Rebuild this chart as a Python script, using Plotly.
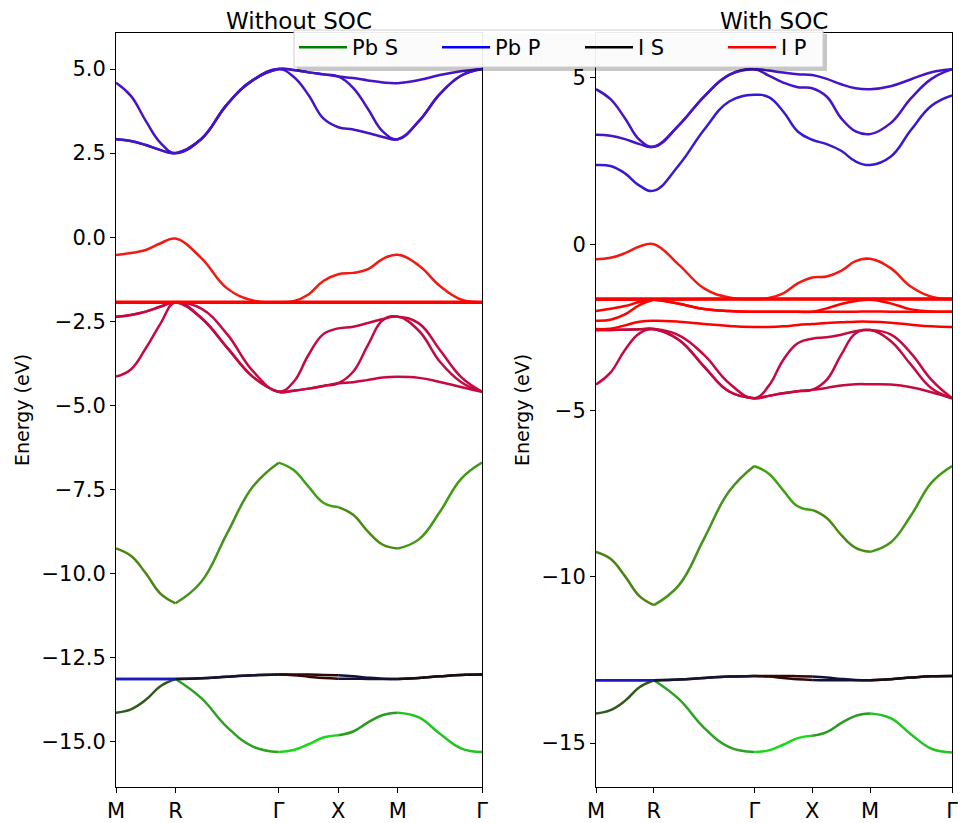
import plotly.graph_objects as go

# ---------------- k-path sampling (path length units) ----------------
K = [0.0, 0.125, 0.25, 0.375, 0.5, 0.7165, 0.933, 1.1495, 1.366, 1.491, 1.616, 1.741,
     1.866, 1.991, 2.116, 2.241, 2.366, 2.543, 2.720, 2.896, 3.073]
HS_POS = [0.0, 0.5, 1.366, 1.866, 2.366, 3.073]
HS_LABELS = ["M", "R", "Γ", "X", "M", "Γ"]

# ---------------- Without SOC (left) ----------------
L_PbP_A = [4.59, 4.20, 3.46, 2.80, 2.50, 2.92, 3.95, 4.67, 5.00, 4.97, 4.90, 4.84, 4.78, 4.73, 4.66, 4.60, 4.58, 4.67, 4.82, 4.93, 5.00]
L_PbP_B = [2.91, 2.86, 2.74, 2.59, 2.50, 2.92, 3.95, 4.67, 5.00, 4.97, 4.90, 4.84, 4.78, 4.44, 3.81, 3.14, 2.91, 3.45, 4.26, 4.80, 5.00]
L_PbP_C = [2.91, 2.86, 2.74, 2.59, 2.50, 2.92, 3.95, 4.67, 5.00, 4.77, 4.23, 3.53, 3.27, 3.20, 3.10, 2.98, 2.91, 3.45, 4.26, 4.80, 5.00]

L_IP_top = [-0.53, -0.47, -0.38, -0.18, -0.04, -0.62, -1.52, -1.88, -1.93, -1.90, -1.70, -1.30, -1.10, -1.06, -0.95, -0.64, -0.52, -0.84, -1.45, -1.85, -1.93]
L_IP_flat = [-1.93] * 21
L_IP_1 = [-4.14, -3.93, -3.30, -2.56, -1.93, -2.40, -3.28, -4.15, -4.59, -4.56, -4.50, -4.42, -4.34, -4.31, -4.24, -4.17, -4.15, -4.18, -4.30, -4.45, -4.59]
L_IP_2 = [-2.36, -2.31, -2.21, -2.06, -1.93, -2.40, -3.28, -4.15, -4.59, -4.56, -4.50, -4.42, -4.34, -4.00, -3.20, -2.46, -2.36, -2.78, -3.70, -4.30, -4.59]
L_IP_3 = [-2.36, -2.31, -2.21, -2.06, -1.93, -2.12, -2.88, -3.98, -4.59, -4.30, -3.50, -2.88, -2.71, -2.66, -2.55, -2.43, -2.36, -2.56, -3.35, -4.15, -4.59]

L_PbS_mid = [-9.25, -9.47, -9.99, -10.60, -10.88, -10.24, -8.80, -7.41, -6.70, -6.92, -7.41, -7.89, -8.02, -8.25, -8.75, -9.14, -9.25, -8.98, -8.16, -7.19, -6.70]
L_PbS_low = [-14.13, -14.03, -13.75, -13.34, -13.13, -13.70, -14.56, -15.14, -15.30, -15.24, -15.07, -14.87, -14.80, -14.69, -14.42, -14.20, -14.13, -14.27, -14.76, -15.19, -15.30]
L_IS_1 = [-13.13, -13.13, -13.13, -13.13, -13.13, -13.11, -13.06, -13.02, -13.00, -13.00, -13.00, -13.01, -13.02, -13.05, -13.09, -13.12, -13.13, -13.10, -13.05, -13.01, -13.00]
L_IS_2 = [-13.13, -13.13, -13.13, -13.13, -13.13, -13.11, -13.06, -13.02, -13.00, -13.02, -13.06, -13.10, -13.12, -13.12, -13.13, -13.13, -13.13, -13.10, -13.05, -13.01, -13.00]

# ---------------- With SOC (right) ----------------
R_PbP_1 = [4.66, 4.36, 3.79, 3.14, 2.93, 3.58, 4.44, 5.09, 5.26, 5.22, 5.16, 5.11, 5.09, 4.97, 4.81, 4.69, 4.66, 4.75, 4.96, 5.17, 5.26]
R_PbP_2 = [3.29, 3.26, 3.16, 3.01, 2.93, 3.58, 4.44, 5.09, 5.26, 5.07, 4.86, 4.72, 4.69, 4.44, 3.79, 3.39, 3.31, 3.64, 4.39, 4.97, 5.26]
R_PbP_3 = [2.38, 2.35, 2.13, 1.76, 1.61, 2.38, 3.44, 4.29, 4.49, 4.42, 3.99, 3.39, 3.14, 3.01, 2.81, 2.49, 2.38, 2.63, 3.44, 4.16, 4.47]

R_IP_top = [-0.45, -0.41, -0.27, -0.07, 0.00, -0.62, -1.33, -1.60, -1.65, -1.62, -1.48, -1.18, -1.00, -0.97, -0.80, -0.51, -0.44, -0.72, -1.28, -1.58, -1.65]
R_IP_flat = [-1.65] * 21
R_IP_2 = [-1.67, -1.67, -1.67, -1.67, -1.67, -1.79, -1.95, -2.01, -2.03, -2.03, -2.03, -2.03, -2.03, -1.93, -1.80, -1.71, -1.67, -1.78, -1.96, -2.02, -2.03]
R_IP_3 = [-2.01, -1.94, -1.86, -1.74, -1.67, -1.79, -1.95, -2.01, -2.03, -2.03, -2.03, -2.03, -2.03, -2.03, -2.03, -2.03, -2.02, -2.03, -2.03, -2.03, -2.03]
R_IP_4 = [-2.30, -2.27, -2.11, -1.83, -1.67, -1.66, -1.65, -1.65, -1.65, -1.65, -1.65, -1.65, -1.65, -1.65, -1.65, -1.65, -1.65, -1.65, -1.65, -1.65, -1.65]
R_IP_5 = [-2.55, -2.54, -2.44, -2.33, -2.30, -2.33, -2.40, -2.46, -2.49, -2.49, -2.47, -2.43, -2.40, -2.37, -2.35, -2.33, -2.33, -2.36, -2.42, -2.47, -2.49]
R_IP_L1 = [-4.22, -3.86, -3.18, -2.68, -2.56, -2.88, -3.68, -4.43, -4.63, -4.56, -4.48, -4.42, -4.38, -4.32, -4.25, -4.21, -4.21, -4.22, -4.30, -4.45, -4.63]
R_IP_L2 = [-2.58, -2.58, -2.57, -2.56, -2.55, -2.88, -3.68, -4.43, -4.63, -4.56, -4.48, -4.42, -4.38, -4.08, -3.33, -2.68, -2.58, -2.91, -3.63, -4.33, -4.63]
R_IP_L3 = [-2.58, -2.58, -2.57, -2.56, -2.55, -2.74, -3.33, -4.18, -4.63, -4.26, -3.48, -2.98, -2.84, -2.80, -2.72, -2.62, -2.58, -2.71, -3.28, -4.08, -4.63]

R_PbS_mid = [-9.25, -9.46, -9.98, -10.58, -10.85, -10.25, -8.85, -7.43, -6.67, -6.90, -7.40, -7.88, -7.99, -8.23, -8.74, -9.13, -9.25, -8.97, -8.15, -7.17, -6.67]
R_PbS_low = [-14.11, -14.01, -13.73, -13.32, -13.11, -13.68, -14.54, -15.12, -15.27, -15.22, -15.05, -14.85, -14.78, -14.67, -14.40, -14.18, -14.11, -14.25, -14.74, -15.17, -15.28]
R_IS_1 = [-13.11, -13.11, -13.11, -13.11, -13.11, -13.09, -13.04, -13.00, -12.98, -12.98, -12.98, -12.99, -13.00, -13.03, -13.07, -13.10, -13.11, -13.08, -13.03, -12.99, -12.98]
R_IS_2 = [-13.11, -13.11, -13.11, -13.11, -13.11, -13.09, -13.04, -13.00, -12.98, -13.00, -13.04, -13.08, -13.10, -13.11, -13.11, -13.11, -13.11, -13.08, -13.03, -12.99, -12.98]

LEFT_YTICKS = [5.0, 2.5, 0.0, -2.5, -5.0, -7.5, -10.0, -12.5, -15.0]
RIGHT_YTICKS = [5, 0, -5, -10, -15]
LEGEND_NAMES = ["Pb S", "Pb P", "I S", "I P"]
LEGEND_COLORS = ["#008000", "#0000ff", "#000000", "#ff0000"]

# ---------------- styles ----------------
C_PBP = "#4514c8"
C_PBP_LOW = "#3a18d2"
C_IP_TOP = "#f01a12"
C_IP_FLAT = "#ff0000"
C_IP_LOW = "#c40a40"
C_PBS_MID = ["#4a8412", "#46921a", "#3fa012", "#4a8a12", "#449818"]
C_PBS_LOW = ["#2f5a1a", "#2ea024", "#18d818", "#2a9a20", "#22c422"]
C_IS = ["#1a1ac0", "#151530", "#300808", "#121238", "#1a0d0d"]

FONT = "DejaVu Sans, Arial, sans-serif"
OFF = 8  # page body margin in the browser
W, H = 966 - 2 * OFF, 823 - OFF


def px(x):
    return (x - OFF) / W


def py(y):
    return 1 - (y - OFF) / H


LEFT_DOM = [px(116), px(482)]
RIGHT_DOM = [px(596), px(952)]
Y_DOM = [py(787), py(33)]
SMOOTH = 1.2

fig = go.Figure()


def add_band(E, color, axis, width=2.5):
    xa, ya = ("x", "y") if axis == 1 else ("x2", "y2")
    if isinstance(color, str):
        fig.add_trace(go.Scatter(x=K, y=E, mode="lines", xaxis=xa, yaxis=ya,
                                 line=dict(color=color, width=width, shape="spline", smoothing=SMOOTH),
                                 showlegend=False, hoverinfo="skip"))
    else:
        for s, c in enumerate(color):
            i0, i1 = 4 * s, 4 * s + 5
            fig.add_trace(go.Scatter(x=K[i0:i1], y=E[i0:i1], mode="lines", xaxis=xa, yaxis=ya,
                                     line=dict(color=c, width=width, shape="spline", smoothing=SMOOTH),
                                     showlegend=False, hoverinfo="skip"))


# left panel
for b in (L_PbP_A, L_PbP_B, L_PbP_C):
    add_band(b, C_PBP, 1)
for b in (L_IP_1, L_IP_2, L_IP_3):
    add_band(b, C_IP_LOW, 1)
add_band(L_IP_top, C_IP_TOP, 1)
add_band(L_IP_flat, C_IP_FLAT, 1, width=3.5)
add_band(L_PbS_mid, C_PBS_MID, 1)
add_band(L_PbS_low, C_PBS_LOW, 1)
add_band(L_IS_1, C_IS, 1)
add_band(L_IS_2, C_IS, 1)

# right panel
add_band(R_PbP_1, C_PBP, 2)
add_band(R_PbP_2, C_PBP, 2)
add_band(R_PbP_3, C_PBP_LOW, 2)
for b in (R_IP_L1, R_IP_L2, R_IP_L3):
    add_band(b, C_IP_LOW, 2)
for b in (R_IP_2, R_IP_3, R_IP_4, R_IP_5):
    add_band(b, C_IP_FLAT, 2)
add_band(R_IP_top, C_IP_TOP, 2)
add_band(R_IP_flat, C_IP_FLAT, 2, width=3.5)
add_band(R_PbS_mid, C_PBS_MID, 2)
add_band(R_PbS_low, C_PBS_LOW, 2)
add_band(R_IS_1, C_IS, 2)
add_band(R_IS_2, C_IS, 2)

# legend entries
for name, col in zip(LEGEND_NAMES, LEGEND_COLORS):
    fig.add_trace(go.Scatter(x=[None], y=[None], mode="lines", name=name,
                             line=dict(color=col, width=2.5), xaxis="x", yaxis="y"))


def fmt(v):
    s = f"{v:.1f}" if isinstance(v, float) else f"{v:d}"
    return s.replace("-", "\u2212")


axis_common = dict(showgrid=False, zeroline=False, showline=True, mirror=True,
                   linecolor="black", linewidth=1, ticks="outside", ticklen=5,
                   tickcolor="black", tickwidth=1, automargin=False,
                   ticklabeloverflow="allow",
                   tickfont=dict(family=FONT, size=21, color="black"))

# legend frame (box + soft shadow) drawn as shapes under the legend items
legend_frame = [
    dict(type="rect", xref="paper", yref="paper", layer="above",
         x0=px(297), x1=px(827), y0=py(71), y1=py(34),
         fillcolor="rgba(0,0,0,0.22)", line=dict(width=0)),
    dict(type="rect", xref="paper", yref="paper", layer="above",
         x0=px(294), x1=px(823), y0=py(67), y1=py(30),
         fillcolor="rgba(255,255,255,0.92)", line=dict(color="#cccccc", width=1)),
]

fig.update_layout(
    width=W, height=H,
    margin=dict(l=0, r=0, t=0, b=0, autoexpand=False),
    paper_bgcolor="white", plot_bgcolor="white",
    xaxis=dict(domain=LEFT_DOM, range=[HS_POS[0], HS_POS[-1]], anchor="y",
               tickmode="array", tickvals=HS_POS, ticktext=HS_LABELS, **axis_common),
    yaxis=dict(domain=Y_DOM, range=[-16.34, 6.07], anchor="x",
               tickmode="array", tickvals=LEFT_YTICKS, ticktext=[fmt(v) for v in LEFT_YTICKS],
               **axis_common),
    xaxis2=dict(domain=RIGHT_DOM, range=[HS_POS[0], HS_POS[-1]], anchor="y2",
                tickmode="array", tickvals=HS_POS, ticktext=HS_LABELS, **axis_common),
    yaxis2=dict(domain=Y_DOM, range=[-16.32, 6.35], anchor="x2",
                tickmode="array", tickvals=RIGHT_YTICKS, ticktext=[fmt(v) for v in RIGHT_YTICKS],
                **axis_common),
    legend=dict(orientation="h", x=px(294), xanchor="left", y=py(27), yanchor="top",
                bgcolor="rgba(0,0,0,0)", borderwidth=0,
                font=dict(family=FONT, size=21, color="black"),
                itemwidth=48, entrywidth=80, entrywidthmode="pixels"),
    shapes=legend_frame,
    showlegend=True,
)

annots = [
    dict(text="Without SOC", x=(LEFT_DOM[0] + LEFT_DOM[1]) / 2, y=py(21)),
    dict(text="With SOC", x=(RIGHT_DOM[0] + RIGHT_DOM[1]) / 2, y=py(21)),
]
for a in annots:
    fig.add_annotation(xref="paper", yref="paper", x=a["x"], y=a["y"], text=a["text"],
                       showarrow=False, xanchor="center", yanchor="middle",
                       font=dict(family=FONT, size=23, color="black"))
for xp in (px(22), px(522)):
    fig.add_annotation(xref="paper", yref="paper", x=xp, y=py(410), text="Energy (eV)",
                       textangle=-90, showarrow=False, xanchor="center", yanchor="middle",
                       font=dict(family=FONT, size=19, color="black"))

fig.write_html("out.html")
